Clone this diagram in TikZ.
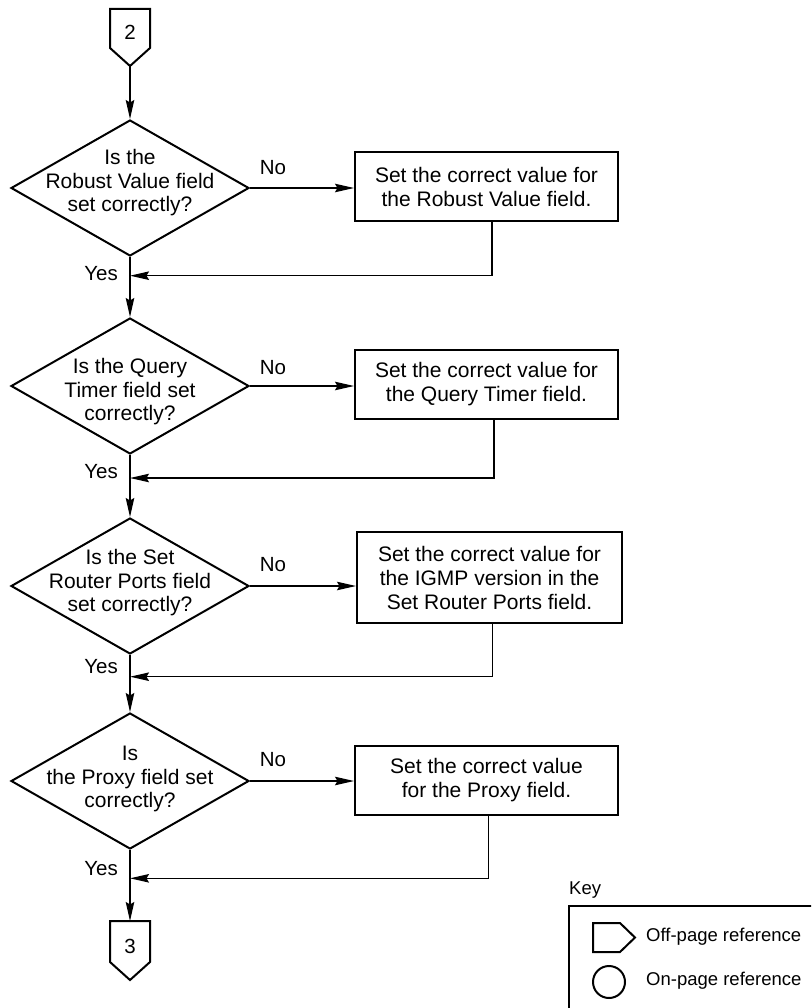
\documentclass[tikz,border=0pt]{standalone}
\usepackage{fontspec}
\setmainfont{Liberation Sans}
\usetikzlibrary{arrows.meta,shapes.geometric,positioning}
\tikzset{
  decision/.style={draw, diamond, line width=2pt, minimum width=238pt, minimum height=136pt, inner sep=0pt},
  qtext/.style={font=\fontsize{21}{23.5}\selectfont, align=center, inner sep=0pt},
  action/.style={draw, rectangle, line width=2pt, minimum width=263pt, minimum height=69pt,
              font=\fontsize{21}{24}\selectfont, align=center, inner sep=0pt},
  tag/.style={font=\fontsize{20.5}{23}\selectfont, inner sep=0pt},
  keytext/.style={font=\fontsize{18.5}{21}\selectfont, inner sep=0pt, anchor=west},
  refshape/.style={line width=2pt, line join=miter},
  flow/.style={-{Stealth[length=19pt,width=8.5pt,inset=2.5pt]}, line width=1.3pt},
}
\begin{document}
\begin{tikzpicture}[x=1pt,y=-1pt]
    \path[use as bounding box] (0,0) rectangle (811,1008);
    \clip (0,0) rectangle (811,1008);
    % off-page connectors
    \draw[refshape] (110,9) -- (150,9) -- (150,48) -- (130,66) -- (110,48) -- cycle;
    \node[tag] (c2) at (130,32) {2};
    \coordinate (c2tip) at (130,66);
    \draw[refshape] (110,921) -- (150,921) -- (150,962) -- (130,980) -- (110,962) -- cycle;
    \node[tag] (c3) at (130,946) {3};
    \coordinate (c3top) at (130,921);
    % decisions
    \node[decision] (d1) at (130,188) {};
    \node[qtext] (t1) at (130,183) {Is the\\Robust Value field\\set correctly?};
    \node[decision] (d2) at (130,386) {};
    \node[qtext] (t2) at (130,392) {Is the Query\\Timer field set\\correctly?};
    \node[decision] (d3) at (130,586) {};
    \node[qtext] (t3) at (130,583) {Is the Set\\Router Ports field\\set correctly?};
    \node[decision] (d4) at (130,781) {};
    \node[qtext] (t4) at (130,779) {Is\\the Proxy field set\\correctly?};
    % actions
    \node[action] (b1) at (486.5,186.5) {Set the correct value for\\the Robust Value field.};
    \node[action] (b2) at (486.5,384.5) {Set the correct value for\\the Query Timer field.};
    \node[action, minimum width=265pt, minimum height=91pt] (b3) at (489.5,577.5) {Set the correct value for\\the IGMP version in the\\Set Router Ports field.};
    \node[action] (b4) at (486.5,780.5) {Set the correct value\\for the Proxy field.};
    \coordinate (r1) at (492,275.7);
    \coordinate (r2) at (494,478);
    \coordinate (r3) at (492.7,676.7);
    \coordinate (r4) at (488.3,878.3);
    % labels
    \node[tag] (n1) at (273,168) {No};
    \node[tag] (n2) at (273,368) {No};
    \node[tag] (n3) at (273,565) {No};
    \node[tag] (n4) at (273,760) {No};
    \node[tag, anchor=east] (y1) at (118,274) {Yes};
    \node[tag, anchor=east] (y2) at (118,472) {Yes};
    \node[tag, anchor=east] (y3) at (118,667) {Yes};
    \node[tag, anchor=east] (y4) at (118,869) {Yes};
    % connectors
    \draw[flow] (c2tip) -- (d1.north);
    \draw[flow] (d1.east) -- (d1.east -| b1.west);
    \draw[flow] (b1.south -| r1) -- (r1) -- (r1 -| d1.south);
    \draw[flow] (d1.south) -- (d2.north);
    \draw[flow] (d2.east) -- (d2.east -| b2.west);
    \draw[flow] (b2.south -| r2) -- (r2) -- (r2 -| d2.south);
    \draw[flow] (d2.south) -- (d3.north);
    \draw[flow] (d3.east) -- (d3.east -| b3.west);
    \draw[flow] (b3.south -| r3) -- (r3) -- (r3 -| d3.south);
    \draw[flow] (d3.south) -- (d4.north);
    \draw[flow] (d4.east) -- (d4.east -| b4.west);
    \draw[flow] (b4.south -| r4) -- (r4) -- (r4 -| d4.south);
    \draw[flow] (d4.south) -- (c3top);
    % key
    \node[keytext] (keyhd) at (569,890) {Key};
    \draw[line width=1.3pt] (569,906) rectangle (840,1040);
    \draw[refshape] (593,923) -- (620,923) -- (635,937.5) -- (620,952) -- (593,952) -- cycle;
    \node[keytext] (offref) at (646,937) {Off-page reference};
    \draw[refshape] (609,982) circle (16);
    \node[keytext] (onref) at (646,981) {On-page reference};
\end{tikzpicture}
\end{document}
